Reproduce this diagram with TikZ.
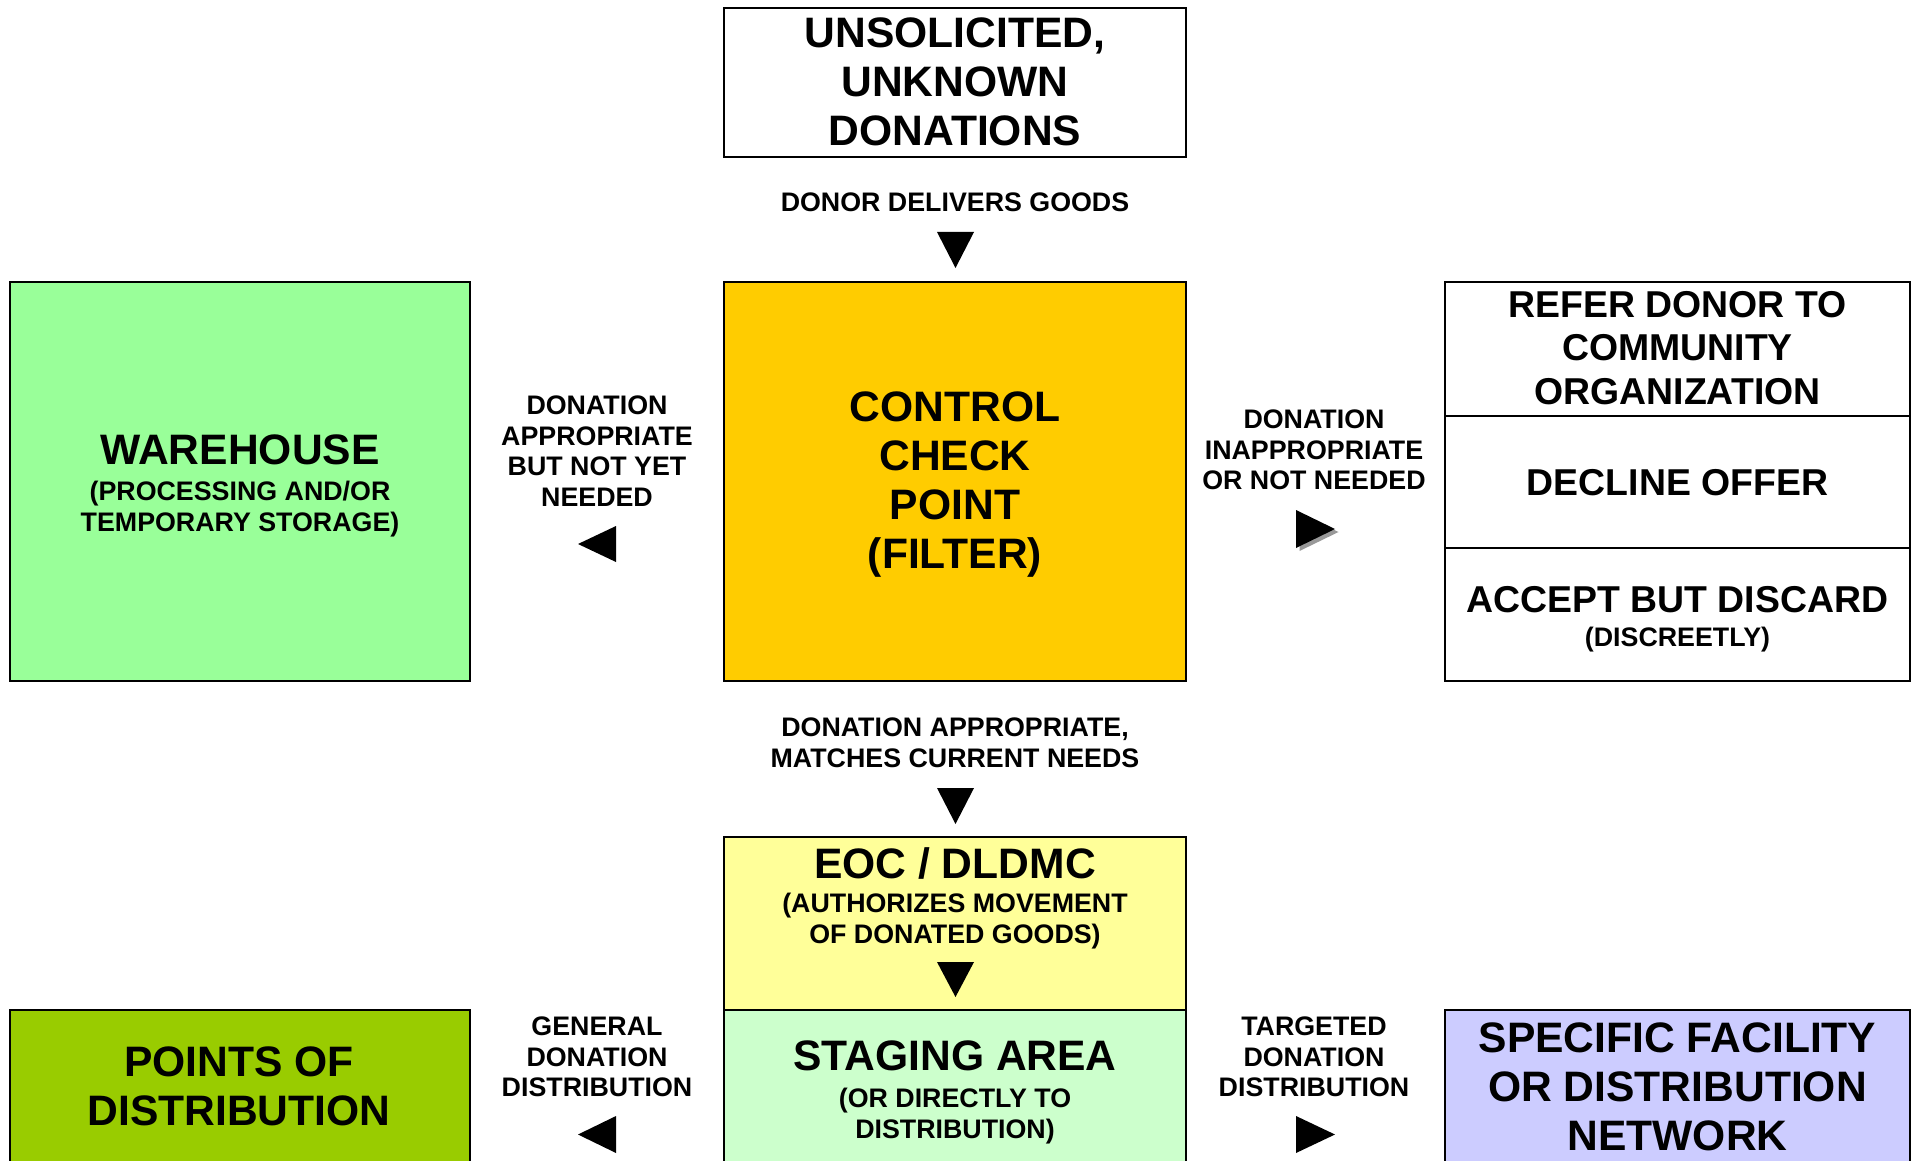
\documentclass[tikz,border=0pt]{standalone}
\usepackage{fontspec}
\setmainfont{Liberation Sans}
\definecolor{whgreen}{HTML}{99FF99}
\definecolor{ctrlgold}{HTML}{FFCC00}
\definecolor{eocyellow}{HTML}{FFFF99}
\definecolor{stagegreen}{HTML}{CCFFCC}
\definecolor{podgreen}{HTML}{99CC00}
\definecolor{specblue}{HTML}{CCCCFF}
\tikzset{
  box/.style={draw=black, line width=2.2pt, rectangle, inner sep=0pt},
  bigtxt/.style={font=\bfseries\fontsize{42.6}{49}\selectfont, align=center, inner sep=0pt, anchor=north},
  midtxt/.style={font=\bfseries\fontsize{37.4}{43.5}\selectfont, align=center, inner sep=0pt, anchor=north},
  smalltxt/.style={font=\bfseries\fontsize{26.8}{30.5}\selectfont, align=center, inner sep=0pt, anchor=north},
  arrowhead/.style={fill=black},
  shadowhead/.style={fill=black!40}
}
\begin{document}
\begin{tikzpicture}[x=1pt,y=-1pt]
\clip (0,0) rectangle (1917,1161);
\fill[white] (0,0) rectangle (1917,1161);

% boxes
\node[box, minimum width=462, minimum height=149] (top) at (955,82.5) {};
\node[box, fill=whgreen, minimum width=460, minimum height=399] (wh) at (240,481.5) {};
\node[box, fill=ctrlgold, minimum width=462, minimum height=399] (ctrl) at (955,481.5) {};
\node[box, minimum width=465, minimum height=134] (refer) at (1677.5,349) {};
\node[box, minimum width=465, minimum height=132] (decline) at (1677.5,482) {};
\node[box, minimum width=465, minimum height=133] (accept) at (1677.5,614.5) {};
\node[box, fill=eocyellow, minimum width=462, minimum height=173] (eoc) at (955,923.5) {};
\node[box, fill=stagegreen, minimum width=462, minimum height=180] (stage) at (955,1100) {};
\node[box, fill=podgreen, minimum width=460, minimum height=180] (pod) at (240,1100) {};
\node[box, fill=specblue, minimum width=465, minimum height=180] (spec) at (1677.5,1100) {};

% texts
\node[bigtxt] (topT) at (955,18) {UNSOLICITED,\\UNKNOWN\\DONATIONS};
\node[smalltxt] (deliver) at (955,193) {DONOR DELIVERS GOODS};
\node[bigtxt] (ctrlT) at (955,392) {CONTROL\\CHECK\\POINT\\(FILTER)};
\node[bigtxt] (whT) at (240,435) {WAREHOUSE};
\node[smalltxt] (whS) at (240,481) {(PROCESSING AND/OR\\TEMPORARY STORAGE)};
\node[smalltxt] (leftL) at (597,396) {DONATION\\APPROPRIATE\\BUT NOT YET\\NEEDED};
\node[smalltxt] (rightL) at (1314,410) {DONATION\\INAPPROPRIATE\\OR NOT NEEDED};
\node[midtxt] (referT) at (1677.5,291) {REFER DONOR TO\\COMMUNITY\\ORGANIZATION};
\node[midtxt] (declineT) at (1677.5,469) {DECLINE OFFER};
\node[midtxt] (acceptT) at (1677.5,586) {ACCEPT BUT DISCARD};
\node[smalltxt] (acceptS) at (1677.5,627) {(DISCREETLY)};
\node[smalltxt] (matchL) at (955,718) {DONATION APPROPRIATE,\\MATCHES CURRENT NEEDS};
\node[bigtxt] (eocT) at (955,847) {EOC / DLDMC};
\node[smalltxt] (eocS) at (955,893) {(AUTHORIZES MOVEMENT\\OF DONATED GOODS)};
\node[bigtxt] (stageT) at (955,1041) {STAGING AREA};
\node[smalltxt] (stageS) at (955,1088) {(OR DIRECTLY TO\\DISTRIBUTION)};
\node[smalltxt] (genL) at (597,1017) {GENERAL\\DONATION\\DISTRIBUTION};
\node[smalltxt] (tarL) at (1314,1017) {TARGETED\\DONATION\\DISTRIBUTION};
\node[bigtxt] (podT) at (239,1047) {POINTS OF\\DISTRIBUTION};
\node[bigtxt] (specT) at (1677.5,1023) {SPECIFIC FACILITY\\OR DISTRIBUTION\\NETWORK};

% arrowheads
\fill[arrowhead] (937,232) -- (974,232) -- (955.5,268) -- cycle;
\fill[arrowhead] (937,788) -- (974,788) -- (955.5,824) -- cycle;
\fill[arrowhead] (937,962) -- (974,962) -- (955.5,997) -- cycle;
\fill[arrowhead] (578,544) -- (616,526) -- (616,562) -- cycle;
\fill[shadowhead] (1338.5,532) -- (1299.5,513) -- (1299.5,551) -- cycle;
\fill[arrowhead] (1335,529) -- (1296,510) -- (1296,548) -- cycle;
\fill[arrowhead] (578,1134.5) -- (616,1116) -- (616,1153) -- cycle;
\fill[arrowhead] (1335,1134.5) -- (1296,1116) -- (1296,1153) -- cycle;
\end{tikzpicture}
\end{document}
